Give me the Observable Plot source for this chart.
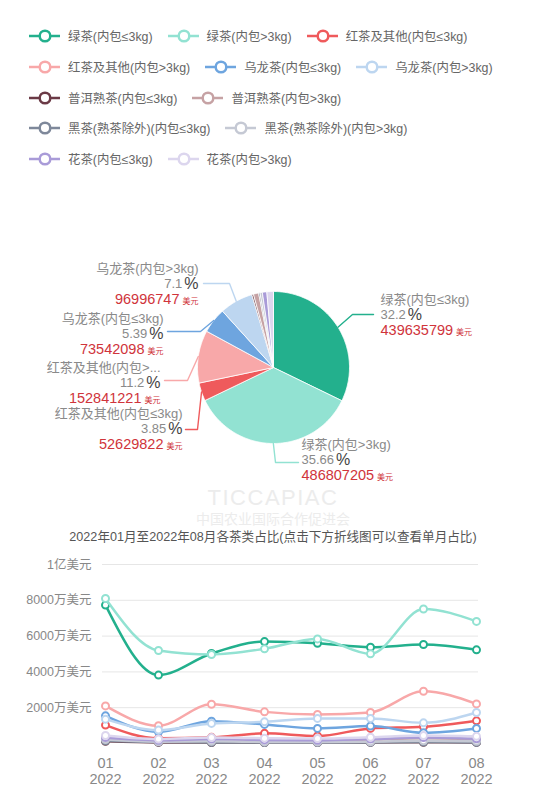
<!DOCTYPE html>
<html><head><meta charset="utf-8">
<script src="https://cdn.jsdelivr.net/npm/d3@7"></script>
<script src="https://cdn.jsdelivr.net/npm/@observablehq/plot@0.6"></script>
<style>
body{margin:0;width:546px;height:800px;background:#fff;position:relative;overflow:hidden;font-family:"Liberation Sans","Noto Sans CJK SC",sans-serif;}
#legend{position:absolute;left:29px;top:21px;}
.row{display:flex;height:30.7px;align-items:center;}
.item{display:flex;align-items:center;margin-right:15px;font-size:12.4px;color:#666;white-space:nowrap;}
.item svg{margin-right:8px;display:block}
.wm{position:absolute;width:546px;text-align:center;color:#ececec;}
#pie{position:absolute;left:0;top:240px}
#title{position:absolute;top:528px;left:0;width:546px;text-align:center;font-size:12.6px;line-height:18px;color:#555}
#line{position:absolute;left:0;top:545px}
</style></head>
<body>
<div class="wm" style="top:487px;font-size:22px;line-height:22px;letter-spacing:1.5px">TICCAPIAC</div>
<div class="wm" style="top:511px;font-size:14px;line-height:16px">中国农业国际合作促进会</div>
<div id="legend"></div>
<div id="pie"></div>
<div id="title"></div>
<div id="line"></div>
<script>
// ---------- data ----------
const series = ["绿茶(内包≤3kg)","绿茶(内包>3kg)","红茶及其他(内包≤3kg)","红茶及其他(内包>3kg)","乌龙茶(内包≤3kg)","乌龙茶(内包>3kg)","普洱熟茶(内包≤3kg)","普洱熟茶(内包>3kg)","黑茶(熟茶除外)(内包≤3kg)","黑茶(熟茶除外)(内包>3kg)","花茶(内包≤3kg)","花茶(内包>3kg)"];
const colors = ["#23b08d","#92e2d2","#ef5a5c","#f8a8a9","#6ea5df","#bdd6f0","#6b3a46","#c6a2a4","#7e889a","#c5c9d4","#a99bd8","#dcd6ee"];
const legendRows = [[0,1,2],[3,4,5],[6,7],[8,9],[10,11]];
const pieValues = [439635799,486807205,52629822,152841221,73542098,96996747,4778650,15018614,4095986,6826643,12970621,19114600];
const pieShares = ["32.2","35.66","3.85","11.2","5.39","7.1"];
const pieLabelNames = ["绿茶(内包≤3kg)","绿茶(内包>3kg)","红茶及其他(内包≤3kg)","红茶及其他(内包>...","乌龙茶(内包≤3kg)","乌龙茶(内包>3kg)"];
const months = ["01","02","03","04","05","06","07","08"];
const yearLabel = "2022";
const yTicks = [2000,4000,6000,8000,10000];
const titleText = "2022年01月至2022年08月各茶类占比(点击下方折线图可以查看单月占比)";
// monthly export value, 万美元
const lvLe   = [7733,3822,5028,5694,5600,5378,5528,5233];
const lvGt   = [8100,5194,4972,5289,5844,5011,7511,6822];
const hongLe = [1028,290,344,567,420,844,933,1267];
const hongGt = [2100,989,2194,1767,1622,1733,2917,2211];
const wuLe   = [1544,656,1250,1067,844,972,600,844];
const wuGt   = [1361,750,1122,1211,1400,1400,1156,1733];
const puLe   = [120,60,50,50,50,60,70,60];
const puGt   = [300,150,250,200,180,220,300,250];
const heiLe  = [150,80,60,50,50,60,80,60];
const heiGt  = [220,100,120,90,80,100,150,120];
const huaLe  = [330,180,250,200,180,250,330,260];
const huaGt  = [450,250,330,300,280,350,450,400];
const monthly = [lvLe,lvGt,hongLe,hongGt,wuLe,wuGt,puLe,puGt,heiLe,heiGt,huaLe,huaGt];

// ---------- layout (not data) ----------
const FONT = '"Liberation Sans","Noto Sans CJK SC",sans-serif';
const PIE = {w:546, h:270, cx:273, cy:127, r:76};
const labelLayout = [
  {elbow:[352,74], end:[373,74], tx:380, ty:59, align:"start"},
  {elbow:[275,222], end:[298,222], tx:301, ty:204, align:"start"},
  {elbow:[197,189], end:[185,189], tx:182, ty:173, align:"end"},
  {elbow:[187,140], end:[164,140], tx:160, ty:127, align:"end"},
  {elbow:[200,91], end:[167,91], tx:163, ty:78, align:"end"},
  {elbow:[229,43], end:[203,43], tx:198, ty:28, align:"end"}
];

// ---------- legend ----------
const legend = document.getElementById("legend");
legendRows.forEach(row => {
  const r = document.createElement("div"); r.className = "row";
  row.forEach(i => {
    const it = document.createElement("div"); it.className = "item";
    it.innerHTML = `<svg width="31" height="14"><line x1="0" x2="31" y1="7" y2="7" stroke="${colors[i]}" stroke-width="2.5"/><circle cx="16" cy="7" r="5.3" fill="#fff" stroke="${colors[i]}" stroke-width="2.5"/></svg><span>${series[i]}</span>`;
    r.appendChild(it);
  });
  legend.appendChild(r);
});

// ---------- pie ----------
const ctx = document.createElement("canvas").getContext("2d");
function tw(s, size){ ctx.font = `${size}px ${FONT}`; return ctx.measureText(s).width; }

const pieRows = series.map((s,i)=>({name:s, value:pieValues[i]}));
const arcs = d3.pie().sort(null).value(d=>d.value)(pieRows);
const polys = [];
arcs.forEach(a => {
  const n = Math.max(2, Math.ceil((a.endAngle - a.startAngle) * 60));
  polys.push({name:a.data.name, x:PIE.cx, y:PIE.cy});
  for (let k=0;k<=n;k++){
    const ang = a.startAngle + (a.endAngle - a.startAngle)*k/n;
    polys.push({name:a.data.name, x:PIE.cx + PIE.r*Math.sin(ang), y:PIE.cy - PIE.r*Math.cos(ang)});
  }
  polys.push({name:a.data.name, x:PIE.cx, y:PIE.cy});
});
const leaders = [];
const nameT=[], pctN=[], pctS=[], valN=[], valU=[];
labelLayout.forEach((L,i) => {
  const a = arcs[i], mid = (a.startAngle + a.endAngle)/2;
  const s = [PIE.cx + PIE.r*Math.sin(mid), PIE.cy - PIE.r*Math.cos(mid)];
  [s, L.elbow, L.end].forEach(p => leaders.push({name:series[i], x:p[0], y:p[1]}));
  const nm = pieLabelNames[i], pn = pieShares[i], vn = String(pieValues[i]);
  const yN = L.ty, yP = L.ty + 15, yV = L.ty + 31;
  if (L.align === "start") {
    nameT.push({x:L.tx, y:yN, t:nm});
    pctN.push({x:L.tx, y:yP, t:pn}); pctS.push({x:L.tx + tw(pn,13)+2, y:yP, t:"%"});
    valN.push({x:L.tx, y:yV, t:vn}); valU.push({x:L.tx + tw(vn,14.5)+3, y:yV+2, t:"美元"});
  } else {
    const ws = tw("%",16); pctS.push({x:L.tx - ws, y:yP, t:"%"}); pctN.push({x:L.tx - ws - 2 - tw(pn,13), y:yP, t:pn});
    nameT.push({x:L.tx - tw(nm,13), y:yN, t:nm});
    const wu = tw("美元",8); valU.push({x:L.tx - wu, y:yV+2, t:"美元"}); valN.push({x:L.tx - wu - 3 - tw(vn,14.5), y:yV, t:vn});
  }
});
const txt = (d, size, fill) => Plot.text(d, {x:"x", y:"y", text:"t", textAnchor:"start", fontSize:size, fill});
const pie = Plot.plot({
  width:PIE.w, height:PIE.h, margin:0,
  x:{domain:[0,PIE.w], axis:null}, y:{domain:[PIE.h,0], axis:null},
  color:{domain:series, range:colors},
  style:{fontFamily:FONT, background:"transparent"},
  marks:[
    Plot.line(polys, {x:"x", y:"y", z:"name", fill:"name", stroke:"white", strokeWidth:0.8, curve:"linear"}),
    Plot.line(leaders, {x:"x", y:"y", z:"name", stroke:"name", strokeWidth:1.4, curve:"linear"}),
    txt(nameT, 13, "#8a8a8a"),
    txt(pctN, 13, "#8a8a8a"),
    txt(pctS, 16, "#444"),
    txt(valN, 14.5, "#d0343b"),
    txt(valU, 8, "#d0343b")
  ]
});
document.getElementById("pie").appendChild(pie);

// ---------- line chart ----------
document.getElementById("title").textContent = titleText;
const lineRows = series.flatMap((s,i) => months.map((m,j) => ({series:s, month:m, value:monthly[i][j]})));
const yFmt = d => d >= 10000 ? `${d/10000}亿美元` : `${d}万美元`;
const lineMarks = [
  Plot.gridY(yTicks, {stroke:"#e6e6e6", strokeOpacity:1, strokeWidth:1}),
  Plot.axisY(yTicks, {tickSize:0, tickPadding:11, tickFormat:yFmt, fontSize:12.5, fill:"#888", label:null}),
  Plot.axisX(months, {tickSize:0, tickPadding:13, tickFormat:d=>`${d}\n${yearLabel}`, fontSize:14.5, lineHeight:1.1, fill:"#888", label:null})
];
series.forEach(s => {
  const rows = lineRows.filter(d => d.series === s);
  lineMarks.push(Plot.line(rows, {x:"month", y:"value", stroke:"series", strokeWidth:2.5, curve:"monotone-x"}));
  lineMarks.push(Plot.dot(rows, {x:"month", y:"value", stroke:"series", fill:"white", r:3.5, strokeWidth:2}));
});
const line = Plot.plot({
  width:546, height:255, marginLeft:102, marginRight:68, marginTop:19, marginBottom:57,
  x:{type:"point", domain:months, padding:0},
  y:{domain:[0,10000]},
  color:{domain:series, range:colors},
  style:{fontFamily:FONT, background:"transparent", overflow:"visible"},
  marks:lineMarks
});
document.getElementById("line").appendChild(line);
</script>
</body></html>
